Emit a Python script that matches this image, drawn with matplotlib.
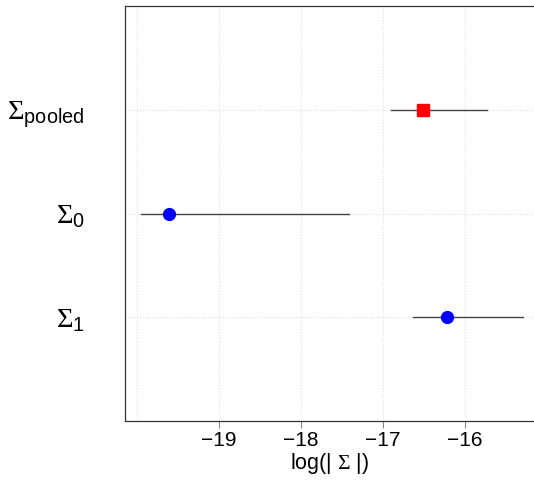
import matplotlib
matplotlib.use("Agg")
import matplotlib.pyplot as plt

plt.rcParams['font.family'] = ['Liberation Sans', 'DejaVu Sans']
plt.rcParams['mathtext.fontset'] = 'custom'
plt.rcParams['mathtext.rm'] = 'Liberation Sans'
plt.rcParams['mathtext.it'] = 'Liberation Sans:italic'
plt.rcParams['mathtext.sf'] = 'Liberation Serif'

# estimates of log|Sigma| with their intervals
labels = [r'$\mathsf{\Sigma}_{\mathrm{pooled}}$', r'$\mathsf{\Sigma}_0$', r'$\mathsf{\Sigma}_1$']
ypos = [3, 2, 1]
est = [-16.51, -19.61, -16.22]
lo = [-16.90, -19.95, -16.63]
hi = [-15.73, -17.41, -15.29]
colors = ['#ff0000', '#0000ff', '#0000ff']
markers = ['s', 'o', 'o']
xticks = [-19, -18, -17, -16]
xgrid = [-20, -19, -18, -17, -16]

fig = plt.figure(figsize=(5.34, 4.82), dpi=100)
ax = fig.add_axes([125 / 534, 61 / 482, 409 / 534, 415 / 482])

for x in xgrid:
    ax.axvline(x, color='#e0e0e0', lw=0.8, ls=':', zorder=0)
for y in ypos:
    ax.axhline(y, color='#e0e0e0', lw=0.8, ls=':', zorder=0)

for i in range(len(ypos)):
    ax.plot([lo[i], hi[i]], [ypos[i], ypos[i]], color='#444444', lw=1.0, zorder=2)
    ax.plot(est[i], ypos[i], marker=markers[i], color=colors[i],
            markersize=8 if markers[i] == 's' else 8.5, ls='none', zorder=3)

ax.set_xlim(-20.146, -15.16)
ax.set_ylim(0, 4)
ax.set_xticks(xticks)
ax.set_xticklabels(['\u221219', '\u221218', '\u221217', '\u221216'])
ax.set_yticks(ypos)
ax.set_yticklabels(labels, fontsize=20.5)
ax.tick_params(axis='x', labelsize=15, length=5, width=0.8, color='#888888', pad=2)
ax.tick_params(axis='y', length=0, pad=29)
ax.spines['right'].set_visible(False)
for s in ['left', 'bottom', 'top']:
    ax.spines[s].set_color('#333333')
    ax.spines[s].set_linewidth(0.9)
ax.set_xlabel(r'log(| $\mathsf{\Sigma}$ |)', fontsize=15.5, labelpad=1)

fig.savefig('out.png', dpi=100)
